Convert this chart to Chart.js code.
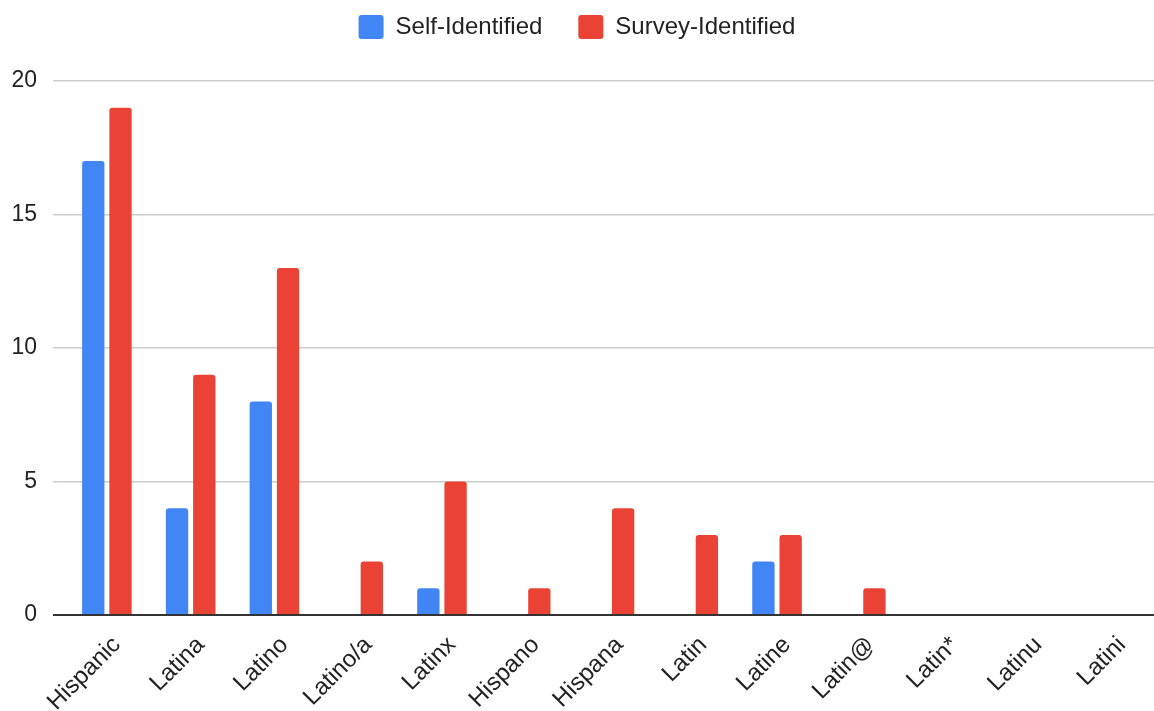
<!DOCTYPE html>
<html>
<head>
<meta charset="utf-8">
<script src="https://cdn.jsdelivr.net/npm/chart.js@4"></script>
<style>
  html, body { margin: 0; padding: 0; background: #fff; }
  #wrap { width: 1154px; height: 711px; }
</style>
</head>
<body>
<div id="wrap"><canvas id="chart" width="1154" height="711"></canvas></div>
<script>
const categories = ['Hispanic', 'Latina', 'Latino', 'Latino/a', 'Latinx', 'Hispano', 'Hispana', 'Latin', 'Latine', 'Latin@', 'Latin*', 'Latinu', 'Latini'];
const selfIdentified = [17, 4, 8, 0, 1, 0, 0, 0, 2, 0, 0, 0, 0];
const surveyIdentified = [19, 9, 13, 2, 5, 1, 4, 3, 3, 1, 0, 0, 0];
const yTicks = [0, 5, 10, 15, 20];

const FONT = '"Liberation Sans", Arial, sans-serif';

// give the legend a fixed block height so the plot starts where the reference does
const legendHeight = {
    id: 'legendHeight',
    beforeInit(chart) {
        const fit = chart.legend.fit;
        chart.legend.fit = function () {
            fit.call(this);
            this.height = 102;
        };
    },
};

new Chart(document.getElementById('chart'), {
    type: 'bar',
    data: {
        labels: categories,
        datasets: [
            {
                label: 'Self-Identified',
                data: selfIdentified,
                backgroundColor: '#4285F4',
                borderRadius: { topLeft: 3, topRight: 3 },
                borderSkipped: false,
            },
            {
                label: 'Survey-Identified',
                data: surveyIdentified,
                backgroundColor: '#EA4335',
                borderRadius: { topLeft: 3, topRight: 3 },
                borderSkipped: false,
            },
        ],
    },
    plugins: [legendHeight],
    options: {
        responsive: false,
        animation: false,
        devicePixelRatio: 1,
        categoryPercentage: 0.65,
        barPercentage: 0.82,
        layout: { padding: { left: 0, right: 0, top: -21, bottom: 0 } },
        plugins: {
            tooltip: { enabled: false },
            legend: {
                position: 'top',
                labels: {
                    font: { family: FONT, size: 24 },
                    color: '#222',
                    boxWidth: 25,
                    boxHeight: 24,
                    useBorderRadius: true,
                    borderRadius: 3,
                    padding: 36,
                },
            },
        },
        scales: {
            x: {
                afterFit: (axis) => { axis.height = 96; },
                grid: { display: false },
                border: { display: true, color: '#333', width: 2 },
                ticks: {
                    font: { family: FONT, size: 24 },
                    color: '#222',
                    minRotation: 45,
                    maxRotation: 45,
                    padding: 8,
                    labelOffset: 10,
                },
            },
            y: {
                min: 0,
                max: 20,
                afterBuildTicks: (axis) => {
                    axis.ticks = yTicks.map((v) => ({ value: v }));
                },
                afterFit: (axis) => { axis.width = 65; },
                border: { display: false },
                grid: {
                    color: (ctx) => (ctx.tick && ctx.tick.value === 0 ? '#333' : '#cccccc'),
                    lineWidth: (ctx) => (ctx.tick && ctx.tick.value === 0 ? 2 : 1.5),
                    drawTicks: true,
                    tickLength: 12,
                },
                ticks: {
                    font: { family: FONT, size: 23 },
                    color: '#222',
                    padding: 16,
                },
            },
        },
    },
});
</script>
</body>
</html>
